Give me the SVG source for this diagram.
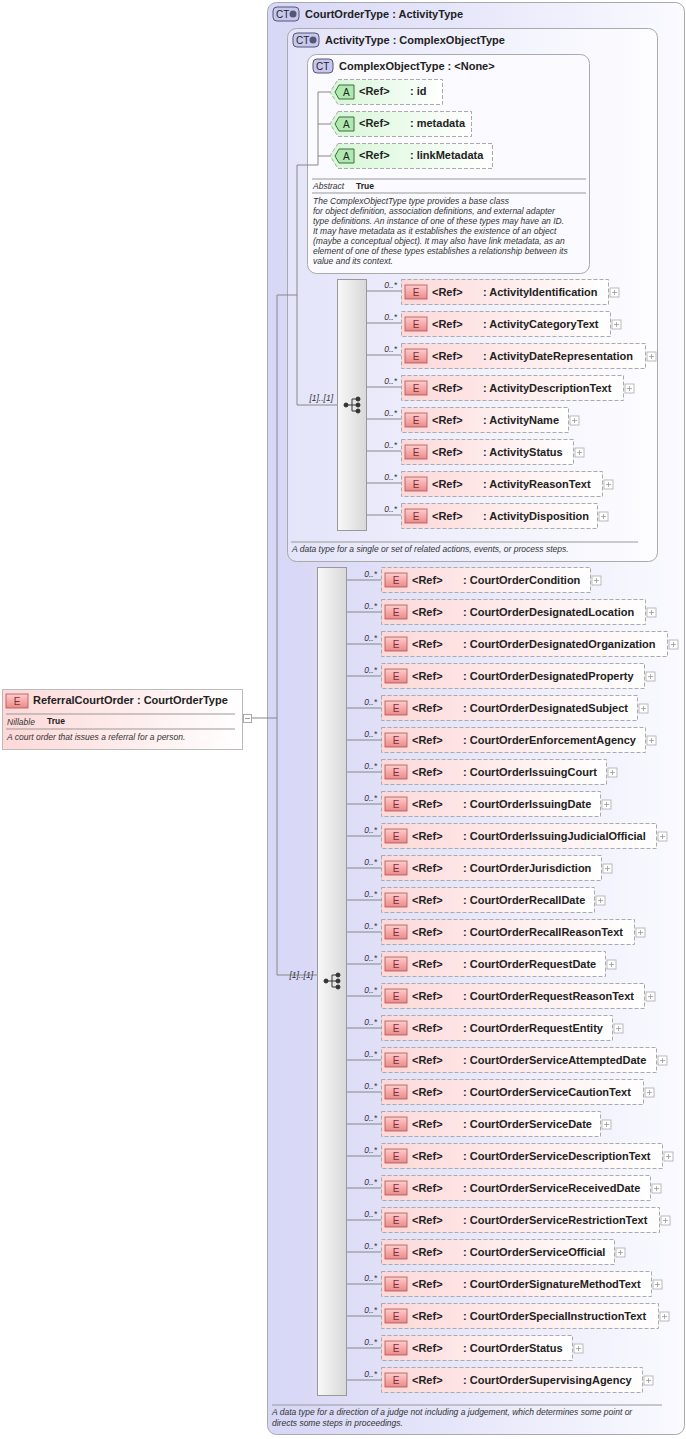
<svg xmlns="http://www.w3.org/2000/svg" width="686" height="1439" viewBox="0 0 686 1439">
<defs>
<linearGradient id="gCT" x1="0" y1="0" x2="1" y2="0"><stop offset="0" stop-color="#d6d6f6"/><stop offset="1" stop-color="#fafaff"/></linearGradient>
<linearGradient id="gCT2" x1="0" y1="0" x2="1" y2="0"><stop offset="0" stop-color="#e4e4fa"/><stop offset="1" stop-color="#fdfdff"/></linearGradient>
<linearGradient id="gE" x1="0" y1="0" x2="1" y2="0"><stop offset="0" stop-color="#fdd8d8"/><stop offset="1" stop-color="#ffffff"/></linearGradient>
<linearGradient id="gA" x1="0" y1="0" x2="1" y2="0"><stop offset="0" stop-color="#d6f6d6"/><stop offset="1" stop-color="#ffffff"/></linearGradient>
<linearGradient id="gS" x1="0" y1="0" x2="1" y2="0"><stop offset="0" stop-color="#f8f8f8"/><stop offset="1" stop-color="#d8d8d8"/></linearGradient>
<linearGradient id="gB" x1="0" y1="0" x2="0" y2="1"><stop offset="0" stop-color="#fcc"/><stop offset="1" stop-color="#e88"/></linearGradient>
<g id="plus"><rect x="0" y="0" width="9" height="9" fill="#fff" stroke="#aaa" stroke-width="0.8"/><path d="M2 4.5h5M4.5 2v5" stroke="#999" stroke-width="0.8"/></g>
<g id="ebadge"><rect x="4" y="6" width="22" height="14" fill="url(#gB)" stroke="#a55" stroke-width="0.8"/><text x="15" y="17" text-anchor="middle" class="b">E</text></g>
</defs>
<style>
text{font-family:"Liberation Sans",Arial,sans-serif;fill:#222}
.n{font-size:11px;font-weight:bold}
.b{font-size:10px;fill:#733}
.m{font-size:8.5px;font-style:italic;fill:#333}
.d{font-size:8.5px;font-style:italic;fill:#333}
.eb{fill:url(#gE);stroke:#aaa;stroke-dasharray:4,2;stroke-width:1}
.c{stroke:#888;stroke-width:1;fill:none}
.t{font-size:11px;font-weight:bold}
</style>
<g id="courtOrderType">
<rect x="267.5" y="2.5" width="417" height="1432" rx="9" fill="url(#gCT)" stroke="#aaa"/>
<rect x="273" y="7" width="26" height="14" rx="4" fill="#c8c8ee" stroke="#557"/><text x="276" y="18" font-size="10" fill="#335">CT</text><circle cx="293" cy="14" r="3.5" fill="#557"/>
<text x="305" y="18" class="t">CourtOrderType : ActivityType</text>
<line x1="272" y1="1405" x2="662" y2="1405" stroke="#999"/>
<text x="272" y="1415" class="d">A data type for a direction of a judge not including a judgement, which determines some point or</text>
<text x="272" y="1426" class="d">directs some steps in proceedings.</text>
</g>
<g id="activityType">
<rect x="287.5" y="28.5" width="370" height="533" rx="9" fill="url(#gCT2)" stroke="#aaa"/>
<rect x="293" y="33" width="26" height="14" rx="4" fill="#c8c8ee" stroke="#557"/><text x="296" y="44" font-size="10" fill="#335">CT</text><circle cx="313" cy="40" r="3.5" fill="#557"/>
<text x="325" y="44" class="t">ActivityType : ComplexObjectType</text>
<line x1="291" y1="542" x2="638" y2="542" stroke="#999"/>
<text x="292" y="552" class="d">A data type for a single or set of related actions, events, or process steps.</text>
</g>
<g id="complexObjectType">
<rect x="307.5" y="54.5" width="282" height="219" rx="9" fill="#fafaff" stroke="#aaa"/>
<rect x="313" y="59" width="20" height="14" rx="4" fill="#c8c8ee" stroke="#557"/><text x="316" y="70" font-size="10" fill="#335">CT</text>
<text x="339" y="70" class="t">ComplexObjectType : &lt;None&gt;</text>
<line x1="312" y1="179" x2="586" y2="179" stroke="#999"/>
<text x="313" y="189" class="d">Abstract</text><text x="356" y="189" font-size="8.5" font-weight="bold">True</text>
<line x1="312" y1="193" x2="586" y2="193" stroke="#999"/>
<g class="d">
<text x="313" y="204" class="d">The ComplexObjectType type provides a base class</text>
<text x="313" y="214" class="d">for object definition, association definitions, and external adapter</text>
<text x="313" y="224" class="d">type definitions. An instance of one of these types may have an ID.</text>
<text x="313" y="234" class="d">It may have metadata as it establishes the existence of an object</text>
<text x="313" y="244" class="d">(maybe a conceptual object). It may also have link metadata, as an</text>
<text x="313" y="254" class="d">element of one of these types establishes a relationship between its</text>
<text x="313" y="264" class="d">value and its context.</text>
</g>
</g>
<g id="connectors" class="c">
<path d="M252 718H277M277 295V975M277 295H297M297 165V405M297 165H318M318 92V165M318 92H330M318 124H330M318 156H330M297 405H337M277 975H317"/>
<path d="M366 291h35M366 323h35M366 355h35M366 387h35M366 419h35M366 451h35M366 483h35M366 515h35"/>
<path d="M346 580h35M346 612h35M346 644h35M346 676h35M346 708h35M346 740h35M346 772h35M346 804h35M346 836h35M346 868h35M346 900h35M346 932h35M346 964h35M346 996h35M346 1028h35M346 1060h35M346 1092h35M346 1124h35M346 1156h35M346 1188h35M346 1220h35M346 1252h35M346 1284h35M346 1316h35M346 1348h35M346 1380h35"/>
</g>
<g id="labels">
<text x="333" y="401" class="m" text-anchor="end">[1]..[1]</text>
<text x="313" y="978" class="m" text-anchor="end">[1]..[1]</text>
<g class="m" text-anchor="end">
<text x="397" y="288" class="m">0..*</text><text x="397" y="320" class="m">0..*</text><text x="397" y="352" class="m">0..*</text><text x="397" y="384" class="m">0..*</text><text x="397" y="416" class="m">0..*</text><text x="397" y="448" class="m">0..*</text><text x="397" y="480" class="m">0..*</text><text x="397" y="512" class="m">0..*</text>
</g>
<g text-anchor="end">
<text x="377" y="577" class="m">0..*</text><text x="377" y="609" class="m">0..*</text><text x="377" y="641" class="m">0..*</text><text x="377" y="673" class="m">0..*</text><text x="377" y="705" class="m">0..*</text><text x="377" y="737" class="m">0..*</text><text x="377" y="769" class="m">0..*</text><text x="377" y="801" class="m">0..*</text><text x="377" y="833" class="m">0..*</text><text x="377" y="865" class="m">0..*</text><text x="377" y="897" class="m">0..*</text><text x="377" y="929" class="m">0..*</text><text x="377" y="961" class="m">0..*</text><text x="377" y="993" class="m">0..*</text><text x="377" y="1025" class="m">0..*</text><text x="377" y="1057" class="m">0..*</text><text x="377" y="1089" class="m">0..*</text><text x="377" y="1121" class="m">0..*</text><text x="377" y="1153" class="m">0..*</text><text x="377" y="1185" class="m">0..*</text><text x="377" y="1217" class="m">0..*</text><text x="377" y="1249" class="m">0..*</text><text x="377" y="1281" class="m">0..*</text><text x="377" y="1313" class="m">0..*</text><text x="377" y="1345" class="m">0..*</text><text x="377" y="1377" class="m">0..*</text>
</g>
</g>
<g id="attributes">
<g id="attr-id"><path d="M338 79.5H442.5V104.5H338L330 92Z" fill="url(#gA)" stroke="#aaa" stroke-dasharray="4,2"/><path d="M339 85H354V99H339L335 92Z" fill="#aeeaae" stroke="#464"/><text x="343" y="96" font-size="10" fill="#242">A</text><text x="359" y="95" class="n">&lt;Ref&gt;</text><text x="410" y="95" class="n">: id</text></g>
<g id="attr-metadata"><path d="M338 111.5H471.5V136.5H338L330 124Z" fill="url(#gA)" stroke="#aaa" stroke-dasharray="4,2"/><path d="M339 117H354V131H339L335 124Z" fill="#aeeaae" stroke="#464"/><text x="343" y="128" font-size="10" fill="#242">A</text><text x="359" y="127" class="n">&lt;Ref&gt;</text><text x="410" y="127" class="n">: metadata</text></g>
<g id="attr-linkMetadata"><path d="M338 143.5H492.5V168.5H338L330 156Z" fill="url(#gA)" stroke="#aaa" stroke-dasharray="4,2"/><path d="M339 149H354V163H339L335 156Z" fill="#aeeaae" stroke="#464"/><text x="343" y="160" font-size="10" fill="#242">A</text><text x="359" y="159" class="n">&lt;Ref&gt;</text><text x="410" y="159" class="n">: linkMetadata</text></g>
</g>
<g id="seq1">
<rect x="337.5" y="279.5" width="29" height="251" fill="url(#gS)" stroke="#999"/>
<g fill="#333" stroke="#333"><circle cx="346" cy="405" r="2"/><path d="M346 405h6M352 399v12M352 399h5M352 405h5M352 411h5" fill="none"/><circle cx="358" cy="399" r="2"/><circle cx="358" cy="405" r="2"/><circle cx="358" cy="411" r="2"/></g>
</g>
<g id="seq2">
<rect x="317.5" y="567.5" width="29" height="828" fill="url(#gS)" stroke="#999"/>
<g fill="#333" stroke="#333"><circle cx="326" cy="981" r="2"/><path d="M326 981h6M332 975v12M332 975h5M332 981h5M332 987h5" fill="none"/><circle cx="338" cy="975" r="2"/><circle cx="338" cy="981" r="2"/><circle cx="338" cy="987" r="2"/></g>
</g>
<g id="activityElements">
<g id="e-ActivityIdentification" transform="translate(401,279)"><rect class="eb" x="0.5" y="0.5" width="207" height="25"/><use href="#ebadge"/><text x="31" y="17" class="n">&lt;Ref&gt;</text><text x="82" y="17" class="n">: ActivityIdentification</text><use href="#plus" x="209" y="9"/></g>
<g id="e-ActivityCategoryText" transform="translate(401,311)"><rect class="eb" x="0.5" y="0.5" width="209" height="25"/><use href="#ebadge"/><text x="31" y="17" class="n">&lt;Ref&gt;</text><text x="82" y="17" class="n">: ActivityCategoryText</text><use href="#plus" x="211" y="9"/></g>
<g id="e-ActivityDateRepresentation" transform="translate(401,343)"><rect class="eb" x="0.5" y="0.5" width="244" height="25"/><use href="#ebadge"/><text x="31" y="17" class="n">&lt;Ref&gt;</text><text x="82" y="17" class="n">: ActivityDateRepresentation</text><use href="#plus" x="246" y="9"/></g>
<g id="e-ActivityDescriptionText" transform="translate(401,375)"><rect class="eb" x="0.5" y="0.5" width="222" height="25"/><use href="#ebadge"/><text x="31" y="17" class="n">&lt;Ref&gt;</text><text x="82" y="17" class="n">: ActivityDescriptionText</text><use href="#plus" x="224" y="9"/></g>
<g id="e-ActivityName" transform="translate(401,407)"><rect class="eb" x="0.5" y="0.5" width="167" height="25"/><use href="#ebadge"/><text x="31" y="17" class="n">&lt;Ref&gt;</text><text x="82" y="17" class="n">: ActivityName</text><use href="#plus" x="169" y="9"/></g>
<g id="e-ActivityStatus" transform="translate(401,439)"><rect class="eb" x="0.5" y="0.5" width="172" height="25"/><use href="#ebadge"/><text x="31" y="17" class="n">&lt;Ref&gt;</text><text x="82" y="17" class="n">: ActivityStatus</text><use href="#plus" x="174" y="9"/></g>
<g id="e-ActivityReasonText" transform="translate(401,471)"><rect class="eb" x="0.5" y="0.5" width="201" height="25"/><use href="#ebadge"/><text x="31" y="17" class="n">&lt;Ref&gt;</text><text x="82" y="17" class="n">: ActivityReasonText</text><use href="#plus" x="203" y="9"/></g>
<g id="e-ActivityDisposition" transform="translate(401,503)"><rect class="eb" x="0.5" y="0.5" width="196" height="25"/><use href="#ebadge"/><text x="31" y="17" class="n">&lt;Ref&gt;</text><text x="82" y="17" class="n">: ActivityDisposition</text><use href="#plus" x="198" y="9"/></g>
</g>
<g id="courtOrderElements">
<g id="e-CourtOrderCondition" transform="translate(381,567)"><rect class="eb" x="0.5" y="0.5" width="209" height="25"/><use href="#ebadge"/><text x="31" y="17" class="n">&lt;Ref&gt;</text><text x="82" y="17" class="n">: CourtOrderCondition</text><use href="#plus" x="211" y="9"/></g>
<g id="e-CourtOrderDesignatedLocation" transform="translate(381,599)"><rect class="eb" x="0.5" y="0.5" width="264" height="25"/><use href="#ebadge"/><text x="31" y="17" class="n">&lt;Ref&gt;</text><text x="82" y="17" class="n">: CourtOrderDesignatedLocation</text><use href="#plus" x="266" y="9"/></g>
<g id="e-CourtOrderDesignatedOrganization" transform="translate(381,631)"><rect class="eb" x="0.5" y="0.5" width="286" height="25"/><use href="#ebadge"/><text x="31" y="17" class="n">&lt;Ref&gt;</text><text x="82" y="17" class="n">: CourtOrderDesignatedOrganization</text><use href="#plus" x="288" y="9"/></g>
<g id="e-CourtOrderDesignatedProperty" transform="translate(381,663)"><rect class="eb" x="0.5" y="0.5" width="263" height="25"/><use href="#ebadge"/><text x="31" y="17" class="n">&lt;Ref&gt;</text><text x="82" y="17" class="n">: CourtOrderDesignatedProperty</text><use href="#plus" x="265" y="9"/></g>
<g id="e-CourtOrderDesignatedSubject" transform="translate(381,695)"><rect class="eb" x="0.5" y="0.5" width="256" height="25"/><use href="#ebadge"/><text x="31" y="17" class="n">&lt;Ref&gt;</text><text x="82" y="17" class="n">: CourtOrderDesignatedSubject</text><use href="#plus" x="258" y="9"/></g>
<g id="e-CourtOrderEnforcementAgency" transform="translate(381,727)"><rect class="eb" x="0.5" y="0.5" width="264" height="25"/><use href="#ebadge"/><text x="31" y="17" class="n">&lt;Ref&gt;</text><text x="82" y="17" class="n">: CourtOrderEnforcementAgency</text><use href="#plus" x="266" y="9"/></g>
<g id="e-CourtOrderIssuingCourt" transform="translate(381,759)"><rect class="eb" x="0.5" y="0.5" width="225" height="25"/><use href="#ebadge"/><text x="31" y="17" class="n">&lt;Ref&gt;</text><text x="82" y="17" class="n">: CourtOrderIssuingCourt</text><use href="#plus" x="227" y="9"/></g>
<g id="e-CourtOrderIssuingDate" transform="translate(381,791)"><rect class="eb" x="0.5" y="0.5" width="219" height="25"/><use href="#ebadge"/><text x="31" y="17" class="n">&lt;Ref&gt;</text><text x="82" y="17" class="n">: CourtOrderIssuingDate</text><use href="#plus" x="221" y="9"/></g>
<g id="e-CourtOrderIssuingJudicialOfficial" transform="translate(381,823)"><rect class="eb" x="0.5" y="0.5" width="275" height="25"/><use href="#ebadge"/><text x="31" y="17" class="n">&lt;Ref&gt;</text><text x="82" y="17" class="n">: CourtOrderIssuingJudicialOfficial</text><use href="#plus" x="277" y="9"/></g>
<g id="e-CourtOrderJurisdiction" transform="translate(381,855)"><rect class="eb" x="0.5" y="0.5" width="220" height="25"/><use href="#ebadge"/><text x="31" y="17" class="n">&lt;Ref&gt;</text><text x="82" y="17" class="n">: CourtOrderJurisdiction</text><use href="#plus" x="222" y="9"/></g>
<g id="e-CourtOrderRecallDate" transform="translate(381,887)"><rect class="eb" x="0.5" y="0.5" width="213" height="25"/><use href="#ebadge"/><text x="31" y="17" class="n">&lt;Ref&gt;</text><text x="82" y="17" class="n">: CourtOrderRecallDate</text><use href="#plus" x="215" y="9"/></g>
<g id="e-CourtOrderRecallReasonText" transform="translate(381,919)"><rect class="eb" x="0.5" y="0.5" width="253" height="25"/><use href="#ebadge"/><text x="31" y="17" class="n">&lt;Ref&gt;</text><text x="82" y="17" class="n">: CourtOrderRecallReasonText</text><use href="#plus" x="255" y="9"/></g>
<g id="e-CourtOrderRequestDate" transform="translate(381,951)"><rect class="eb" x="0.5" y="0.5" width="224" height="25"/><use href="#ebadge"/><text x="31" y="17" class="n">&lt;Ref&gt;</text><text x="82" y="17" class="n">: CourtOrderRequestDate</text><use href="#plus" x="226" y="9"/></g>
<g id="e-CourtOrderRequestReasonText" transform="translate(381,983)"><rect class="eb" x="0.5" y="0.5" width="263" height="25"/><use href="#ebadge"/><text x="31" y="17" class="n">&lt;Ref&gt;</text><text x="82" y="17" class="n">: CourtOrderRequestReasonText</text><use href="#plus" x="265" y="9"/></g>
<g id="e-CourtOrderRequestEntity" transform="translate(381,1015)"><rect class="eb" x="0.5" y="0.5" width="231" height="25"/><use href="#ebadge"/><text x="31" y="17" class="n">&lt;Ref&gt;</text><text x="82" y="17" class="n">: CourtOrderRequestEntity</text><use href="#plus" x="233" y="9"/></g>
<g id="e-CourtOrderServiceAttemptedDate" transform="translate(381,1047)"><rect class="eb" x="0.5" y="0.5" width="275" height="25"/><use href="#ebadge"/><text x="31" y="17" class="n">&lt;Ref&gt;</text><text x="82" y="17" class="n">: CourtOrderServiceAttemptedDate</text><use href="#plus" x="277" y="9"/></g>
<g id="e-CourtOrderServiceCautionText" transform="translate(381,1079)"><rect class="eb" x="0.5" y="0.5" width="262" height="25"/><use href="#ebadge"/><text x="31" y="17" class="n">&lt;Ref&gt;</text><text x="82" y="17" class="n">: CourtOrderServiceCautionText</text><use href="#plus" x="264" y="9"/></g>
<g id="e-CourtOrderServiceDate" transform="translate(381,1111)"><rect class="eb" x="0.5" y="0.5" width="219" height="25"/><use href="#ebadge"/><text x="31" y="17" class="n">&lt;Ref&gt;</text><text x="82" y="17" class="n">: CourtOrderServiceDate</text><use href="#plus" x="221" y="9"/></g>
<g id="e-CourtOrderServiceDescriptionText" transform="translate(381,1143)"><rect class="eb" x="0.5" y="0.5" width="281" height="25"/><use href="#ebadge"/><text x="31" y="17" class="n">&lt;Ref&gt;</text><text x="82" y="17" class="n">: CourtOrderServiceDescriptionText</text><use href="#plus" x="283" y="9"/></g>
<g id="e-CourtOrderServiceReceivedDate" transform="translate(381,1175)"><rect class="eb" x="0.5" y="0.5" width="269" height="25"/><use href="#ebadge"/><text x="31" y="17" class="n">&lt;Ref&gt;</text><text x="82" y="17" class="n">: CourtOrderServiceReceivedDate</text><use href="#plus" x="271" y="9"/></g>
<g id="e-CourtOrderServiceRestrictionText" transform="translate(381,1207)"><rect class="eb" x="0.5" y="0.5" width="278" height="25"/><use href="#ebadge"/><text x="31" y="17" class="n">&lt;Ref&gt;</text><text x="82" y="17" class="n">: CourtOrderServiceRestrictionText</text><use href="#plus" x="280" y="9"/></g>
<g id="e-CourtOrderServiceOfficial" transform="translate(381,1239)"><rect class="eb" x="0.5" y="0.5" width="233" height="25"/><use href="#ebadge"/><text x="31" y="17" class="n">&lt;Ref&gt;</text><text x="82" y="17" class="n">: CourtOrderServiceOfficial</text><use href="#plus" x="235" y="9"/></g>
<g id="e-CourtOrderSignatureMethodText" transform="translate(381,1271)"><rect class="eb" x="0.5" y="0.5" width="270" height="25"/><use href="#ebadge"/><text x="31" y="17" class="n">&lt;Ref&gt;</text><text x="82" y="17" class="n">: CourtOrderSignatureMethodText</text><use href="#plus" x="272" y="9"/></g>
<g id="e-CourtOrderSpecialInstructionText" transform="translate(381,1303)"><rect class="eb" x="0.5" y="0.5" width="277" height="25"/><use href="#ebadge"/><text x="31" y="17" class="n">&lt;Ref&gt;</text><text x="82" y="17" class="n">: CourtOrderSpecialInstructionText</text><use href="#plus" x="279" y="9"/></g>
<g id="e-CourtOrderStatus" transform="translate(381,1335)"><rect class="eb" x="0.5" y="0.5" width="191" height="25"/><use href="#ebadge"/><text x="31" y="17" class="n">&lt;Ref&gt;</text><text x="82" y="17" class="n">: CourtOrderStatus</text><use href="#plus" x="193" y="9"/></g>
<g id="e-CourtOrderSupervisingAgency" transform="translate(381,1367)"><rect class="eb" x="0.5" y="0.5" width="261" height="25"/><use href="#ebadge"/><text x="31" y="17" class="n">&lt;Ref&gt;</text><text x="82" y="17" class="n">: CourtOrderSupervisingAgency</text><use href="#plus" x="263" y="9"/></g>
</g>
<g id="referralCourtOrder">
<rect x="2.5" y="689.5" width="240" height="60" fill="url(#gE)" stroke="#bbb"/>
<g transform="translate(2,688)"><use href="#ebadge"/></g>
<text x="33" y="704" class="t" fill="#333">ReferralCourtOrder : CourtOrderType</text>
<line x1="6" y1="714" x2="235" y2="714" stroke="#999"/>
<text x="7" y="725" class="d">Nillable</text><text x="47" y="724" font-size="8.5" font-weight="bold">True</text>
<line x1="6" y1="729" x2="235" y2="729" stroke="#999"/>
<text x="7" y="740" class="d">A court order that issues a referral for a person.</text>
<rect x="243.5" y="714.5" width="8" height="8" fill="#fff" stroke="#aaa"/><path d="M245 718.5h5" stroke="#999"/>
</g>
</svg>
